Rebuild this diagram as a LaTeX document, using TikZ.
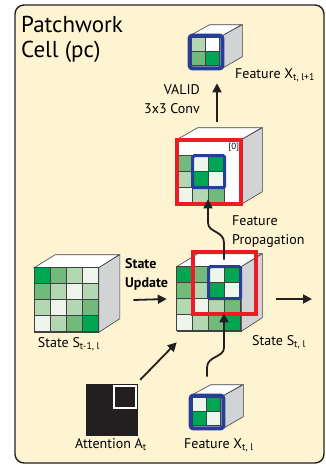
\documentclass[tikz,border=0pt]{standalone}
\usepackage{fontspec}
\setmainfont{PT Sans}
\usepackage{xcolor}
\usepackage{tikz}
\usetikzlibrary{arrows.meta}

\definecolor{panelfill}{HTML}{FFF4D2}
\definecolor{inkblack}{HTML}{231F20}
\definecolor{edgegrey}{HTML}{414042}
\definecolor{sidegrey}{HTML}{D1D3D4}
\definecolor{gD}{HTML}{00A651}
\definecolor{gM}{HTML}{72B97C}
\definecolor{gL}{HTML}{B3D7B1}
\definecolor{gP}{HTML}{EEF6EC}
\definecolor{gW}{HTML}{FFFFFF}
\definecolor{framered}{HTML}{ED1C24}
\definecolor{frameblue}{HTML}{263E96}

\begin{document}
\begin{tikzpicture}[x=1pt, y=-1pt]
	\tikzstyle{every node}=[font=\fontsize{14}{19}\selectfont, inner sep=0pt];
	\tikzstyle{panel}=[draw=inkblack, line width=1.4pt, fill=panelfill, rounded corners=9pt];
	\tikzstyle{bigfront}=[draw=edgegrey, line width=0.6pt, fill=white, minimum size=64pt];
	\tikzstyle{smallfront}=[draw=edgegrey, line width=0.6pt, fill=white, minimum size=32pt];
	\tikzstyle{topface}=[draw=edgegrey, line width=0.6pt, fill=white];
	\tikzstyle{sideface}=[draw=edgegrey, line width=0.6pt, fill=sidegrey];
	\tikzstyle{cell}=[draw=edgegrey, line width=0.6pt];
	\tikzstyle{redframe}=[draw=framered, line width=4pt];
	\tikzstyle{blueframe}=[draw=frameblue, line width=3pt, rounded corners=1.5pt];
	\tikzstyle{flow}=[draw=inkblack, line width=1.8pt, -{Triangle[length=9pt,width=9pt]}];

	\useasboundingbox (0,0) rectangle (325,466);

	%Panel
	\draw[panel] (15,5) rectangle (324,463);
	\node[font=\fontsize{23}{25}\selectfont, align=left, anchor=base west] (title) at (21,57) {Patchwork\\Cell (pc)};

	%State S_{t-1,l}
	\node[bigfront] (sprev) at (66.5,300) {};
	\draw[topface] (sprev.north west) -- ++(21,-13) -- ++(64,0) -- (sprev.north east) -- cycle;
	\draw[sideface] (sprev.north east) -- ++(21,-13) -- ++(0,64) -- (sprev.south east) -- cycle;
	\begin{scope}[shift={(sprev.north west)}]
		\foreach \row [count=\r] in {{gD,gM,gL,gP},{gM,gL,gP,gL},{gL,gP,gL,gM},{gP,gL,gM,gD}}
			\foreach \c [count=\k] in \row
				\draw[cell, fill=\c] (\k*16-16, \r*16-16) rectangle ++(16,16);
	\end{scope}

	%State S_{t,l}
	\node[bigfront] (scur) at (209,299) {};
	\draw[topface] (scur.north west) -- ++(21,-13) -- ++(64,0) -- (scur.north east) -- cycle;
	\draw[sideface] (scur.north east) -- ++(21,-13) -- ++(0,64) -- (scur.south east) -- cycle;
	\begin{scope}[shift={(scur.north west)}]
		\foreach \row [count=\r] in {{gD,gM,gP,gD},{gM,gL,gD,gP},{gL,gP,gL,gM},{gP,gL,gM,gD}}
			\foreach \c [count=\k] in \row
				\draw[cell, fill=\c] (\k*16-16, \r*16-16) rectangle ++(16,16);
		\draw[blueframe] (32,0) rectangle (64,32);
		\draw[redframe] (16.5,-14.5) rectangle (79,47.5);
	\end{scope}

	%Propagated patch
	\node[bigfront] (prop) at (209,172) {};
	\draw[topface] (prop.north west) -- ++(21,-12) -- ++(64,0) -- (prop.north east) -- cycle;
	\draw[sideface] (prop.north east) -- ++(21,-12) -- ++(0,64) -- (prop.south east) -- cycle;
	\begin{scope}[shift={(prop.north west)}]
		\foreach \c/\i/\j in {gM/1/2, gP/2/2, gD/3/2, gL/1/3, gD/2/3, gP/3/3, gP/1/4, gL/2/4, gM/3/4}
			\draw[cell, fill=\c] (\i*16-16, \j*16-16) rectangle ++(16,16);
		\draw[blueframe] (16,16) rectangle (48,48);
	\end{scope}
	\draw[redframe] (prop.north west) rectangle (prop.south east);
	\node[font=\fontsize{9}{10}\selectfont, anchor=north east] (zero) at ([xshift=-2pt,yshift=-3pt]prop.north east) {[0]};

	%Feature X_{t,l+1}
	\node[smallfront] (xout) at (206,52) {};
	\draw[topface] (xout.north west) -- ++(20,-11) -- ++(32,0) -- (xout.north east) -- cycle;
	\draw[sideface] (xout.north east) -- ++(20,-11) -- ++(0,32) -- (xout.south east) -- cycle;
	\begin{scope}[shift={(xout.north west)}]
		\foreach \row [count=\r] in {{gL,gW},{gM,gD}}
			\foreach \c [count=\k] in \row
				\draw[cell, fill=\c] (\k*14-12, \r*14-12) rectangle ++(14,14);
	\end{scope}
	\draw[blueframe, line width=4pt, rounded corners=2.5pt] (xout.north west) rectangle (xout.south east);

	%Feature X_{t,l}
	\node[smallfront] (xin) at (207,412) {};
	\draw[topface] (xin.north west) -- ++(20,-11) -- ++(32,0) -- (xin.north east) -- cycle;
	\draw[sideface] (xin.north east) -- ++(20,-11) -- ++(0,32) -- (xin.south east) -- cycle;
	\begin{scope}[shift={(xin.north west)}]
		\foreach \row [count=\r] in {{gP,gD},{gD,gP}}
			\foreach \c [count=\k] in \row
				\draw[cell, fill=\c] (\k*14-12, \r*14-12) rectangle ++(14,14);
	\end{scope}
	\draw[blueframe, line width=4pt, rounded corners=2.5pt] (xin.north west) rectangle (xin.south east);

	%Attention A_t
	\node[fill=inkblack, minimum size=52pt] (att) at (112,410) {};
	\draw[draw=white, line width=2pt] ([xshift=-24pt,yshift=-2pt]att.north east) rectangle ([xshift=-2pt,yshift=-24pt]att.north east);

	%Arrows
	\draw[flow] ([xshift=34.5pt]sprev.east) -- ([xshift=-10pt]scur.west);
	\coordinate (next) at (312,299);
	\draw[flow] ([xshift=35pt]scur.east) -- (next);
	\draw[flow] ([xshift=2pt,yshift=4pt]att.north east) -- ([yshift=-11pt]scur.south west);
	\draw[flow] ([xshift=8pt,yshift=18pt]prop.north) -- ([xshift=11pt,yshift=-15pt]xout.south);
	\draw[flow] ([xshift=15pt,yshift=7pt]scur.north) -- ++(0,-17) .. controls +(0,-12) and +(0,10) .. ++(-16,-20) -- ([xshift=-1pt,yshift=5pt]prop.south);
	\draw[flow] ([yshift=19pt]xin.north) -- ++(0,-9) .. controls +(0,-12) and +(0,10) .. ++(17,-20) -- ([xshift=15pt,yshift=18pt]scur.south);

	%Labels
	\node[anchor=base west] (xoutlbl) at (235,78) {Feature X\textsubscript{t, l+1}};
	\node[align=right, anchor=base east] (convlbl) at (200,113) {VALID\\3x3 Conv};
	\node[align=left, anchor=base west] (proplbl) at (232,244) {Feature\\Propagation};
	\node[align=left, anchor=base west, font=\fontsize{14}{19}\selectfont\bfseries] (updlbl) at (125,287) {State\\Update};
	\node[anchor=base] (prevlbl) at (69,347) {State S\textsubscript{t-1, l}};
	\node[anchor=base west] (curlbl) at (252,345) {State S\textsubscript{t, l}};
	\node[anchor=base west] (attlbl) at (75,448) {Attention A\textsubscript{t}};
	\node[anchor=base west] (xinlbl) at (184,448) {Feature X\textsubscript{t, l}};
\end{tikzpicture}
\end{document}
